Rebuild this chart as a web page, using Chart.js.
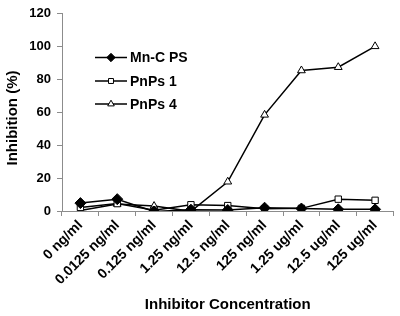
<!DOCTYPE html>
<html>
<head>
<meta charset="utf-8">
<script src="https://cdn.jsdelivr.net/npm/chart.js@4/dist/chart.umd.min.js"></script>
<style>
  html, body { margin:0; padding:0; background:#fff; }
  #c { display:block; }
</style>
</head>
<body>
<canvas id="c" width="400" height="316"></canvas>
<script>
// categories + series
const concLabels = ['0 ng/ml','0.0125 ng/ml','0.125 ng/ml','1.25 ng/ml','12.5 ng/ml','125 ng/ml','1.25 ug/ml','12.5 ug/ml','125 ug/ml'];
const mncPS  = [4.8, 7.2, -0.3, 0.8, 0.6, 2.0, 1.5, 1.0, 1.0];
const pnps1  = [2.2, 4.5, 0.5, 3.8, 3.3, 1.3, 1.6, 7.2, 6.5];
const pnps4  = [0.3, 4.3, 3.0, -0.2, 17.8, 58.5, 85.5, 87.5, 100.2];
const yTicks = [0, 20, 40, 60, 80, 100, 120];
const yTitle = 'Inhibition (%)';

const FAMILY = '"Liberation Sans", Arial, sans-serif';
const TICK_FONT = { family: FAMILY, size: 13, weight: 'bold' };
const XTICK_FONT = { family: FAMILY, size: 14, weight: 'bold' };
const TITLE_FONT = { family: FAMILY, size: 15, weight: 'bold' };
const AXIS_GRAY = '#8c8c8c';

// legend sits inside the plot (line + small marker), y title drawn by hand
const extras = {
  id: 'extras',
  afterDraw(chart){
    const ctx = chart.ctx;
    const rows = [57.5, 81, 104];
    const legendRadius = [4.2, 3.5, 3.8];
    chart.data.datasets.forEach((ds, i) => {
      const y = rows[i];
      ctx.save();
      ctx.strokeStyle = '#000'; ctx.lineWidth = 1.5;
      ctx.beginPath(); ctx.moveTo(95, y); ctx.lineTo(127, y); ctx.stroke();
      ctx.fillStyle = ds.pointBackgroundColor; ctx.lineWidth = 1;
      Chart.helpers.drawPoint(ctx, { pointStyle: ds.pointStyle, radius: legendRadius[i], borderWidth: 1 }, 111, y);
      ctx.fillStyle = '#000';
      ctx.font = 'bold 14px ' + FAMILY;
      ctx.textBaseline = 'middle';
      ctx.fillText(ds.label, 130, y + 1);
      ctx.restore();
    });
    ctx.save();
    ctx.translate(13, 118);
    ctx.rotate(-Math.PI / 2);
    ctx.fillStyle = '#000';
    ctx.font = 'bold 15px ' + FAMILY;
    ctx.textAlign = 'center';
    ctx.textBaseline = 'middle';
    ctx.fillText(yTitle, 0, 0);
    ctx.restore();
  }
};

new Chart(document.getElementById('c'), {
  type: 'line',
  data: {
    labels: concLabels,
    datasets: [
      { label:'Mn-C PS', data: mncPS, borderColor:'#000', borderWidth:1.5, pointStyle:'rectRot', pointRadius:5.5,
        pointBackgroundColor:'#000', pointBorderColor:'#000', pointBorderWidth:1, tension:0 },
      { label:'PnPs 1', data: pnps1, borderColor:'#000', borderWidth:1.5, pointStyle:'rect', pointRadius:4.5,
        pointBackgroundColor:'#fff', pointBorderColor:'#000', pointBorderWidth:1, tension:0 },
      { label:'PnPs 4', data: pnps4, borderColor:'#000', borderWidth:1.5, pointStyle:'triangle', pointRadius:4.5,
        pointBackgroundColor:'#fff', pointBorderColor:'#000', pointBorderWidth:1, tension:0 }
    ]
  },
  options: {
    responsive:false, animation:false,
    layout:{ padding:{ top:8, right:3, left:0, bottom:0 } },
    plugins:{ legend:{ display:false }, tooltip:{ enabled:false } },
    scales:{
      x:{
        offset:true,
        grid:{ display:true, drawOnChartArea:false, drawTicks:true, tickLength:5, offset:true, color:AXIS_GRAY },
        border:{ display:true, color:AXIS_GRAY, width:1 },
        ticks:{ color:'#000', font:XTICK_FONT, maxRotation:45, minRotation:45, autoSkip:false, padding:1 },
        title:{ display:true, text:'Inhibitor Concentration', color:'#000', font:TITLE_FONT, padding:{ top:4, bottom:2 } },
        afterFit(s){ s.height = 105; }
      },
      y:{
        min:0, max:120,
        afterBuildTicks(s){ s.ticks = yTicks.map(v => ({ value:v })); },
        grid:{ display:true, drawOnChartArea:false, drawTicks:true, tickLength:5, color:AXIS_GRAY },
        border:{ display:true, color:AXIS_GRAY, width:1 },
        ticks:{ color:'#000', font:TICK_FONT, padding:6 },
        afterFit(s){ s.width = 62; }
      }
    }
  },
  plugins:[extras]
});
</script>
</body>
</html>
